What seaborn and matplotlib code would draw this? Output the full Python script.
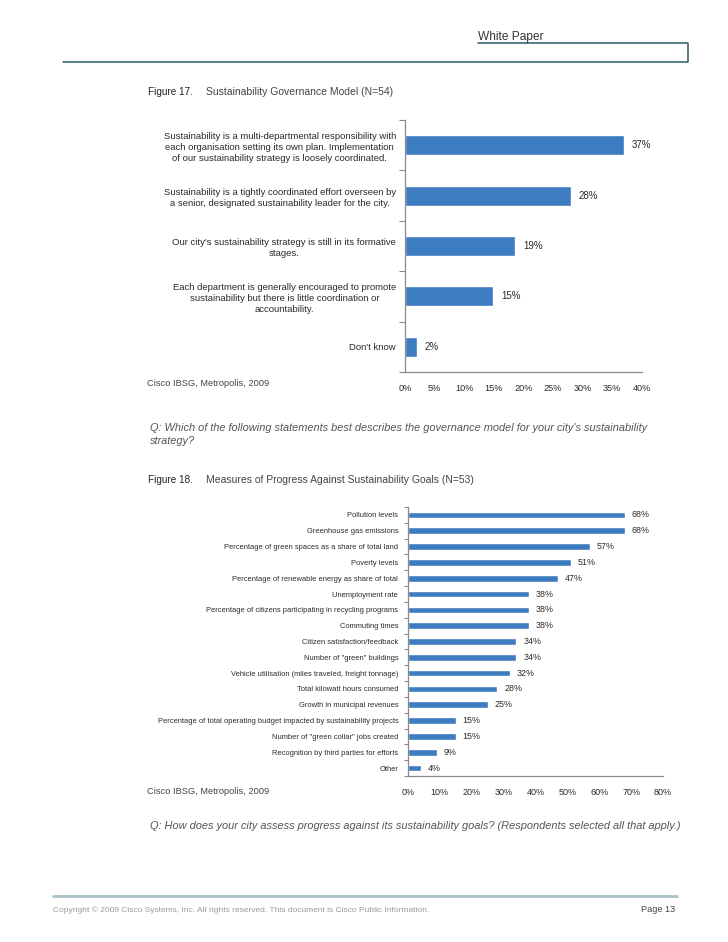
import matplotlib
matplotlib.use('Agg')
import matplotlib.pyplot as plt
from matplotlib.lines import Line2D
import seaborn as sns
import pandas as pd
import numpy as np

sns.set_theme(style='white')
plt.rcParams['font.family'] = ['Liberation Sans', 'DejaVu Sans']

# ---------------- data ----------------
gov_labels = [
    "Sustainability is a multi-departmental responsibility with\n"
    "each organisation setting its own plan. Implementation\n"
    "of our sustainability strategy is loosely coordinated.",
    "Sustainability is a tightly coordinated effort overseen by\n"
    "a senior, designated sustainability leader for the city.",
    "Our city's sustainability strategy is still in its formative\nstages.",
    "Each department is generally encouraged to promote\n"
    "sustainability but there is little coordination or\naccountability.",
    "Don't know",
]
gov_values = [37.0, 28.0, 18.6, 14.9, 2.0]
gov_ticks = [0, 5, 10, 15, 20, 25, 30, 35, 40]

prog_labels = [
    "Pollution levels",
    "Greenhouse gas emissions",
    "Percentage of green spaces as a share of total land",
    "Poverty levels",
    "Percentage of renewable energy as share of total",
    "Unemployment rate",
    "Percentage of citizens participating in recycling programs",
    "Commuting times",
    "Citizen satisfaction/feedback",
    'Number of "green" buildings',
    "Vehicle utilisation (miles traveled, freight tonnage)",
    "Total kilowatt hours consumed",
    "Growth in municipal revenues",
    "Percentage of total operating budget impacted by sustainability projects",
    'Number of "green collar" jobs created',
    "Recognition by third parties for efforts",
    "Other",
]
prog_values = [68, 68, 57, 51, 47, 38, 38, 38, 34, 34, 32, 28, 25, 15, 15, 9, 4]
prog_ticks = [0, 10, 20, 30, 40, 50, 60, 70, 80]

# ---------------- styling ----------------
BAR = '#3D7CC0'
AXC = '#8a8a8a'
TXT = '#2a2a2a'
W, H = 728, 942

fig = plt.figure(figsize=(W / 100, H / 100), dpi=100)
fig.patch.set_facecolor('white')


def fx(x):
    return x / W


def fy(y):
    return 1 - y / H


def axes_px(l, t, r, b):
    return fig.add_axes([l / W, 1 - b / H, (r - l) / W, (b - t) / H])


def line_px(xs, ys, **kw):
    fig.add_artist(Line2D([fx(x) for x in xs], [fy(y) for y in ys],
                          transform=fig.transFigure, **kw))


def style_axes(ax, labels, ticks, xmax, ylab_kw, tick_size, ylab_pad, minor_len):
    ax.set_xlim(0, xmax)
    ax.set_xticks(ticks)
    ax.set_xticklabels([f"{t}%" for t in ticks])
    ax.set_xlabel('')
    ax.set_ylabel('')
    for s in ['top', 'right']:
        ax.spines[s].set_visible(False)
    for s in ['left', 'bottom']:
        ax.spines[s].set_color(AXC)
        ax.spines[s].set_linewidth(0.9)
    ax.tick_params(axis='x', which='major', length=4, width=0.8, color=AXC,
                   direction='out', pad=4.5, labelsize=tick_size, labelcolor=TXT)
    ax.tick_params(axis='y', which='major', length=0, pad=ylab_pad, labelcolor=TXT)
    n = len(labels)
    ax.set_yticks(np.arange(-0.5, n, 1), minor=True)
    ax.tick_params(axis='y', which='minor', length=minor_len, width=0.8, color=AXC,
                   direction='out', left=True)
    for lab in ax.get_yticklabels():
        lab.set(**ylab_kw)
    ax.set_ylim(n - 0.5, -0.5)


# ---------------- header / footer ----------------
fig.text(fx(478), fy(37), "White Paper", fontsize=8.6, color='#333333',
         ha='left', va='center')
hc = '#2b5a6b'
line_px([478, 687.5, 687.5, 63], [42.5, 42.5, 61.5, 61.5], color=hc, lw=1.1)
line_px([53, 677], [896, 896], color='#a9c3c8', lw=2.0)
fig.text(fx(53), fy(910), "Copyright \u00a9 2009 Cisco Systems, Inc. All rights reserved. "
         "This document is Cisco Public Information.", fontsize=6.0, color='#9a9a9a',
         ha='left', va='center')
fig.text(fx(675), fy(910), "Page 13", fontsize=6.6, color='#444444',
         ha='right', va='center')

# ---------------- Figure 17 ----------------
fig.text(fx(148), fy(92), "Figure 17.", fontsize=7.2, color='#222222',
         ha='left', va='center', fontweight='medium')
fig.text(fx(206), fy(92), "Sustainability Governance Model (N=54)", fontsize=7.5,
         color='#444444', ha='left', va='center')

ax1 = axes_px(405, 120, 642, 372)
df1 = pd.DataFrame({'label': gov_labels, 'value': gov_values})
sns.barplot(data=df1, x='value', y='label', orient='h', color=BAR, saturation=1,
            width=0.4, ax=ax1)
style_axes(ax1, gov_labels, gov_ticks, 40,
           dict(fontsize=6.8, multialignment='center', linespacing=1.3),
           6.6, 6.5, 4)
ax1.bar_label(ax1.containers[0], labels=[f"{v:.0f}%" for v in gov_values],
              padding=5.5, fontsize=7.0, color=TXT)

fig.text(fx(147), fy(384), "Cisco IBSG, Metropolis, 2009", fontsize=6.7,
         color='#444444', ha='left', va='center')
fig.text(fx(150), fy(423),
         "Q: Which of the following statements best describes the governance model "
         "for your city's sustainability\nstrategy?",
         fontsize=7.95, color='#555555', style='italic', ha='left', va='top',
         linespacing=1.38)

# ---------------- Figure 18 ----------------
fig.text(fx(148), fy(480), "Figure 18.", fontsize=7.2, color='#222222',
         ha='left', va='center', fontweight='medium')
fig.text(fx(206), fy(480), "Measures of Progress Against Sustainability Goals (N=53)",
         fontsize=7.5, color='#444444', ha='left', va='center')

ax2 = axes_px(408, 507, 663, 776)
df2 = pd.DataFrame({'label': prog_labels, 'value': prog_values})
sns.barplot(data=df2, x='value', y='label', orient='h', color=BAR, saturation=1,
            width=0.42, ax=ax2)
style_axes(ax2, prog_labels, prog_ticks, 80,
           dict(fontsize=5.4),
           6.5, 7.0, 3)
ax2.bar_label(ax2.containers[0], labels=[f"{v}%" for v in prog_values],
              padding=5, fontsize=6.4, color=TXT)

fig.text(fx(147), fy(791), "Cisco IBSG, Metropolis, 2009", fontsize=6.7,
         color='#444444', ha='left', va='center')
fig.text(fx(150), fy(826),
         "Q: How does your city assess progress against its sustainability goals? "
         "(Respondents selected all that apply.)",
         fontsize=7.95, color='#555555', style='italic', ha='left', va='center')

fig.savefig('out.png', dpi=100, facecolor='white')
